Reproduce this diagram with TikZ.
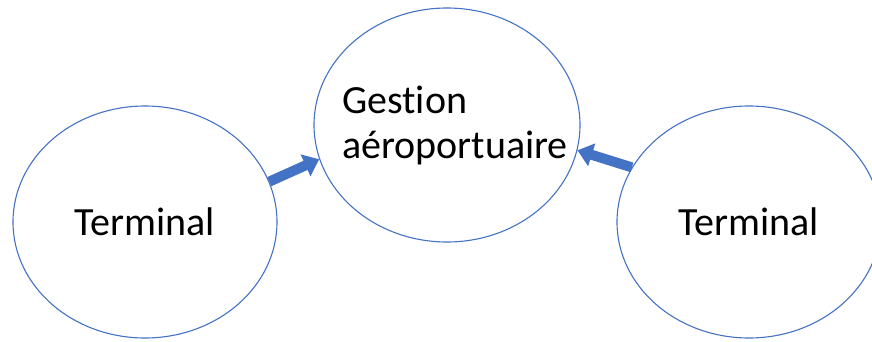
\documentclass[tikz,border=0pt]{standalone}
\usepackage{fontspec}
\setmainfont{Carlito}[Ligatures={NoCommon}]
\usetikzlibrary{shapes.geometric,arrows.meta}
\definecolor{officeblue}{HTML}{4472C4}
\tikzset{
  bubble/.style={draw=officeblue, line width=1.1pt, ellipse, inner sep=0pt,
    minimum width=264pt, minimum height=232pt, font=\fontsize{40}{45}\selectfont},
  blockarrow/.style={officeblue, line width=10pt,
    -{Triangle[width=23pt,length=15pt]}}
}
\begin{document}
\begin{tikzpicture}[x=1pt,y=1pt]
        \useasboundingbox (0,0) rectangle (872,341);
        % Ellipses
        \node[bubble] (termleft) at (145,119) {Terminal};
        \node[bubble, minimum width=266pt, minimum height=234pt] (gestion) at (447,216) {};
        \node[bubble] (termright) at (749,119) {Terminal};
        \node[align=left, font=\fontsize{40}{45}\selectfont, inner sep=0pt] (gestiontext)
          at ([xshift=8pt]gestion.center) {Gestion\\aéroportuaire};

        % Arrows
        \draw[blockarrow] (termleft.18) -- (gestion.195);
        \draw[blockarrow] (termright.155) -- (gestion.349);
    \end{tikzpicture}
\end{document}
